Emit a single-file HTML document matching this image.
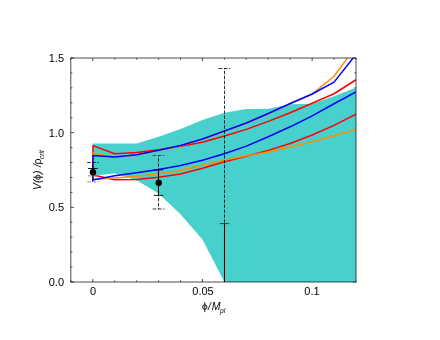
<!DOCTYPE html>
<html><head><meta charset="utf-8"><title>plot</title>
<style>
html,body{margin:0;padding:0;background:#fff;}
body{width:440px;height:340px;position:relative;overflow:hidden;font-family:"Liberation Sans",sans-serif;color:#000;}
.t{position:absolute;font-size:11px;line-height:11px;white-space:nowrap;will-change:transform;}
.yl{text-align:right;width:30px;left:34.2px;}
.xl{text-align:center;width:40px;}
.lab{position:absolute;font-size:10.5px;line-height:10.5px;white-space:nowrap;will-change:transform;}
.lab i{font-style:italic;}
.sub{display:inline-block;font-style:italic;font-size:6.6px;line-height:7px;margin-left:-0.5px;transform:translateY(2.9px) rotate(0.02deg);}
.phi{vertical-align:-2.5px;overflow:visible;}
.sl{margin-left:0.5px;margin-right:0.65px;}
.rho{display:inline-block;transform:scaleY(1.1);transform-origin:50% 55%;}
.ph2{margin-left:-0.9px;margin-right:0.9px;}
.sl2{margin-left:0.4px;margin-right:-0.3px;}
</style></head><body>
<svg width="440" height="340" viewBox="0 0 440 340" style="position:absolute;left:0;top:0">
<defs><clipPath id="c"><rect x="70.85" y="58.00" width="285.15" height="224.00"/></clipPath></defs>
<g stroke="#000" stroke-width="0.7"><line x1="70.84" y1="282.00" x2="70.84" y2="280.40"/><line x1="70.84" y1="58.00" x2="70.84" y2="59.60"/><line x1="92.78" y1="282.00" x2="92.78" y2="279.00"/><line x1="92.78" y1="58.00" x2="92.78" y2="61.00"/><line x1="114.72" y1="282.00" x2="114.72" y2="280.40"/><line x1="114.72" y1="58.00" x2="114.72" y2="59.60"/><line x1="136.65" y1="282.00" x2="136.65" y2="280.40"/><line x1="136.65" y1="58.00" x2="136.65" y2="59.60"/><line x1="158.58" y1="282.00" x2="158.58" y2="280.40"/><line x1="158.58" y1="58.00" x2="158.58" y2="59.60"/><line x1="180.52" y1="282.00" x2="180.52" y2="280.40"/><line x1="180.52" y1="58.00" x2="180.52" y2="59.60"/><line x1="202.45" y1="282.00" x2="202.45" y2="279.00"/><line x1="202.45" y1="58.00" x2="202.45" y2="61.00"/><line x1="224.39" y1="282.00" x2="224.39" y2="280.40"/><line x1="224.39" y1="58.00" x2="224.39" y2="59.60"/><line x1="246.32" y1="282.00" x2="246.32" y2="280.40"/><line x1="246.32" y1="58.00" x2="246.32" y2="59.60"/><line x1="268.26" y1="282.00" x2="268.26" y2="280.40"/><line x1="268.26" y1="58.00" x2="268.26" y2="59.60"/><line x1="290.19" y1="282.00" x2="290.19" y2="280.40"/><line x1="290.19" y1="58.00" x2="290.19" y2="59.60"/><line x1="312.13" y1="282.00" x2="312.13" y2="279.00"/><line x1="312.13" y1="58.00" x2="312.13" y2="61.00"/><line x1="334.06" y1="282.00" x2="334.06" y2="280.40"/><line x1="334.06" y1="58.00" x2="334.06" y2="59.60"/><line x1="356.00" y1="282.00" x2="356.00" y2="280.40"/><line x1="356.00" y1="58.00" x2="356.00" y2="59.60"/><line x1="70.85" y1="282.00" x2="73.85" y2="282.00"/><line x1="356.00" y1="282.00" x2="353.00" y2="282.00"/><line x1="70.85" y1="267.07" x2="72.45" y2="267.07"/><line x1="356.00" y1="267.07" x2="354.40" y2="267.07"/><line x1="70.85" y1="252.13" x2="72.45" y2="252.13"/><line x1="356.00" y1="252.13" x2="354.40" y2="252.13"/><line x1="70.85" y1="237.20" x2="72.45" y2="237.20"/><line x1="356.00" y1="237.20" x2="354.40" y2="237.20"/><line x1="70.85" y1="222.27" x2="72.45" y2="222.27"/><line x1="356.00" y1="222.27" x2="354.40" y2="222.27"/><line x1="70.85" y1="207.33" x2="73.85" y2="207.33"/><line x1="356.00" y1="207.33" x2="353.00" y2="207.33"/><line x1="70.85" y1="192.40" x2="72.45" y2="192.40"/><line x1="356.00" y1="192.40" x2="354.40" y2="192.40"/><line x1="70.85" y1="177.47" x2="72.45" y2="177.47"/><line x1="356.00" y1="177.47" x2="354.40" y2="177.47"/><line x1="70.85" y1="162.53" x2="72.45" y2="162.53"/><line x1="356.00" y1="162.53" x2="354.40" y2="162.53"/><line x1="70.85" y1="147.60" x2="72.45" y2="147.60"/><line x1="356.00" y1="147.60" x2="354.40" y2="147.60"/><line x1="70.85" y1="132.67" x2="73.85" y2="132.67"/><line x1="356.00" y1="132.67" x2="353.00" y2="132.67"/><line x1="70.85" y1="117.73" x2="72.45" y2="117.73"/><line x1="356.00" y1="117.73" x2="354.40" y2="117.73"/><line x1="70.85" y1="102.80" x2="72.45" y2="102.80"/><line x1="356.00" y1="102.80" x2="354.40" y2="102.80"/><line x1="70.85" y1="87.87" x2="72.45" y2="87.87"/><line x1="356.00" y1="87.87" x2="354.40" y2="87.87"/><line x1="70.85" y1="72.93" x2="72.45" y2="72.93"/><line x1="356.00" y1="72.93" x2="354.40" y2="72.93"/><line x1="70.85" y1="58.00" x2="73.85" y2="58.00"/><line x1="356.00" y1="58.00" x2="353.00" y2="58.00"/></g>
<g clip-path="url(#c)">
<polygon points="92.78,143.50 114.72,143.50 136.65,143.50 158.58,136.80 180.52,128.90 202.45,119.90 224.39,112.70 246.32,108.90 268.26,108.75 290.19,104.25 312.13,103.75 334.06,96.25 356.00,87.50 356.00,282.00 334.06,282.00 312.13,282.00 290.19,282.00 268.26,282.00 246.32,282.00 224.39,282.00 202.45,239.60 180.52,214.20 158.58,193.60 136.65,180.30 114.72,173.50 92.78,175.80" fill="#48d1cc"/>
<path d="M356.00 79.75 L334.06 93.75 L312.13 103.30 L290.19 112.80 L268.26 121.40 L246.32 129.40 L224.39 136.00 L202.45 142.20 L180.52 146.30 L158.58 149.80 L136.65 152.50 L114.72 153.75 L92.95 145.60 L92.95 175.00 L114.72 179.75 L136.65 179.40 L158.58 177.20 L180.52 174.00 L202.45 168.30 L224.39 161.70 L246.32 156.30 L268.26 150.40 L290.19 143.50 L312.13 135.00 L334.06 125.40 L356.00 114.25" fill="none" stroke="#ff0000" stroke-width="1.5" stroke-linejoin="round"/>
<path d="M356.00 46.50 L334.06 76.25 L312.13 94.20 L290.19 103.90 L268.26 113.90 L246.32 123.40 L224.39 131.40 L202.45 139.40 L180.52 145.90 L158.58 150.60 L136.65 155.10 L114.72 157.30 L92.95 153.10 L92.95 179.20 L114.72 177.90 L136.65 176.25 L158.58 173.70 L180.52 170.50 L202.45 165.00 L224.39 160.30 L246.32 155.80 L268.26 152.00 L290.19 147.00 L312.13 141.80 L334.06 135.80 L356.00 129.50" fill="none" stroke="#ff8c00" stroke-width="1.5" stroke-linejoin="round"/>
<path d="M356.00 54.40 L334.06 82.10 L312.13 94.00 L290.19 103.50 L268.26 113.50 L246.32 123.00 L224.39 131.00 L202.45 139.00 L180.52 145.50 L158.58 150.25 L136.65 154.75 L114.72 157.00 L92.95 155.40 L92.95 180.00 L114.72 175.80 L136.65 172.75 L158.58 169.50 L180.52 165.50 L202.45 160.30 L224.39 153.80 L246.32 146.10 L268.26 136.70 L290.19 126.80 L312.13 115.90 L334.06 103.75 L356.00 92.00" fill="none" stroke="#0000ff" stroke-width="1.5" stroke-linejoin="round"/>
<g stroke="#000" stroke-width="1" fill="none">
<line x1="92.50" y1="162.5" x2="92.50" y2="181.8" stroke-width="0.8" stroke-dasharray="3.5 1.45" stroke-dashoffset="2.6"/>
<line x1="87.15" y1="162.50" x2="98.85" y2="162.50" stroke-width="0.8" stroke-dasharray="3.7 1.5"/>
<line x1="87.15" y1="181.90" x2="98.85" y2="181.90" stroke-width="0.8" stroke-dasharray="3.7 1.5" stroke="#777"/>
<line x1="92.50" y1="168.5" x2="92.50" y2="175.9" stroke-width="1.05"/>
<line x1="88.10" y1="168.50" x2="97.70" y2="168.50" stroke-width="0.9"/>
<line x1="88.10" y1="175.90" x2="97.70" y2="175.90" stroke="#888"/>
<line x1="158.50" y1="155.5" x2="158.50" y2="209" stroke-width="0.8" stroke-dasharray="3.5 1.45" stroke-dashoffset="2.2"/>
<line x1="152.65" y1="155.45" x2="164.35" y2="155.45" stroke-width="0.8" stroke-dasharray="3.7 1.5" stroke="#333"/>
<line x1="152.65" y1="209.00" x2="164.35" y2="209.00" stroke-width="0.8" stroke-dasharray="3.7 1.5"/>
<line x1="158.50" y1="169.9" x2="158.50" y2="195.3" stroke-width="1.05"/>
<line x1="153.70" y1="169.90" x2="163.30" y2="169.90" stroke-width="0.9"/>
<line x1="153.70" y1="195.40" x2="163.30" y2="195.40" stroke-width="0.9"/>
<line x1="224.50" y1="68.5" x2="224.50" y2="223.6" stroke-width="0.8" stroke-dasharray="3.5 1.45" stroke-dashoffset="2.65"/>
<line x1="218.65" y1="68.50" x2="230.35" y2="68.50" stroke-width="0.8" stroke-dasharray="3.7 1.5"/>
<line x1="224.50" y1="223.6" x2="224.50" y2="282" stroke-width="1.05"/>
<line x1="219.80" y1="223.60" x2="229.20" y2="223.60" stroke-width="0.8" stroke="#222"/>
</g>
<circle cx="92.95" cy="172.25" r="3.2" fill="#000"/>
<circle cx="158.70" cy="182.7" r="3.2" fill="#000"/>
</g>
<rect x="70.85" y="58.00" width="285.15" height="224.00" fill="none" stroke="#000" stroke-width="0.7"/>
</svg>
<div class="t yl" style="top:53px">1.5</div>
<div class="t yl" style="top:127.6px">1.0</div>
<div class="t yl" style="top:202.3px">0.5</div>
<div class="t yl" style="top:277px">0.0</div>
<div class="t xl" style="left:73.1px;top:286.2px">0</div>
<div class="t xl" style="left:182.7px;top:286.2px">0.05</div>
<div class="t xl" style="left:292.1px;top:286.2px">0.1</div>
<div class="lab" id="xlab" style="left:201.75px;top:300.7px"><svg class="phi" width="5.6" height="10.2" viewBox="0 0 5.6 10.2"><ellipse cx="2.8" cy="5.05" rx="2.15" ry="2.25" fill="none" stroke="#000" stroke-width="0.9"/><line x1="2.8" y1="0.2" x2="2.8" y2="10.1" stroke="#000" stroke-width="0.9"/></svg><i class="sl">/</i><i>M</i><span class="sub">pl</span></div>
<div class="lab" id="ylab" style="left:31.5px;top:190px;transform-origin:0 0;transform:rotate(-90deg);"><i>V(</i><span class="ph2"><svg class="phi" width="5.6" height="10.2" viewBox="0 0 5.6 10.2"><ellipse cx="2.8" cy="5.05" rx="2.15" ry="2.25" fill="none" stroke="#000" stroke-width="0.9"/><line x1="2.8" y1="0.2" x2="2.8" y2="10.1" stroke="#000" stroke-width="0.9"/></svg></span><i>)</i> <i class="sl2">/</i><span class="rho">&#961;</span><span class="sub" style="margin-left:-0.3px">crit</span></div>
</body></html>
